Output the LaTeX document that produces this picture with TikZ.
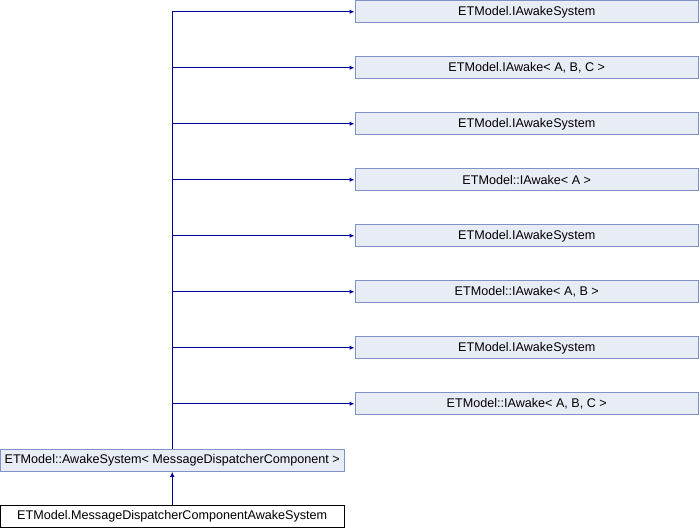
\documentclass[tikz,border=0pt]{standalone}
\usepackage{fontspec}
\setmainfont{Liberation Sans}
\usetikzlibrary{arrows.meta}
\definecolor{boxfill}{HTML}{E8ECF5}
\definecolor{boxline}{HTML}{7E92C6}
\definecolor{edgecol}{HTML}{00009A}
\tikzset{
  cls/.style={draw=boxline, fill=boxfill, line width=1pt, minimum height=22pt, inner sep=0pt, font=\fontsize{12.6}{14}\selectfont},
  rbox/.style={cls, minimum width=343.5pt},
  lbox/.style={cls, minimum width=343.5pt},
  cur/.style={lbox, draw=black, fill=white},
  edge/.style={draw=edgecol, line width=1pt, -{Latex[length=5pt,width=4.5pt]}}
}
\begin{document}
\begin{tikzpicture}[x=1pt,y=-1pt]
\useasboundingbox (0,0) rectangle (700,528);
\node[rbox] (r1) at (526.75,11.75) {ETModel.IAwakeSystem};
\node[rbox] (r2) at (526.75,67.75) {ETModel.IAwake< A, B, C >};
\node[rbox] (r3) at (526.75,123.75) {ETModel.IAwakeSystem};
\node[rbox] (r4) at (526.75,179.75) {ETModel::IAwake< A >};
\node[rbox] (r5) at (526.75,235.75) {ETModel.IAwakeSystem};
\node[rbox] (r6) at (526.75,291.75) {ETModel::IAwake< A, B >};
\node[rbox] (r7) at (526.75,347.75) {ETModel.IAwakeSystem};
\node[rbox] (r8) at (526.75,403.75) {ETModel::IAwake< A, B, C >};
\node[lbox] (aw) at (172.25,460.25) {ETModel::AwakeSystem< MessageDispatcherComponent >};
\node[cur] (bot) at (172.25,516.25) {ETModel.MessageDispatcherComponentAwakeSystem};
\foreach \i in {1,...,8}{
  \draw[edge] (aw.north) |- (r\i.west);
}
\draw[edge] (bot.north) -- (aw.south);
\end{tikzpicture}
\end{document}
